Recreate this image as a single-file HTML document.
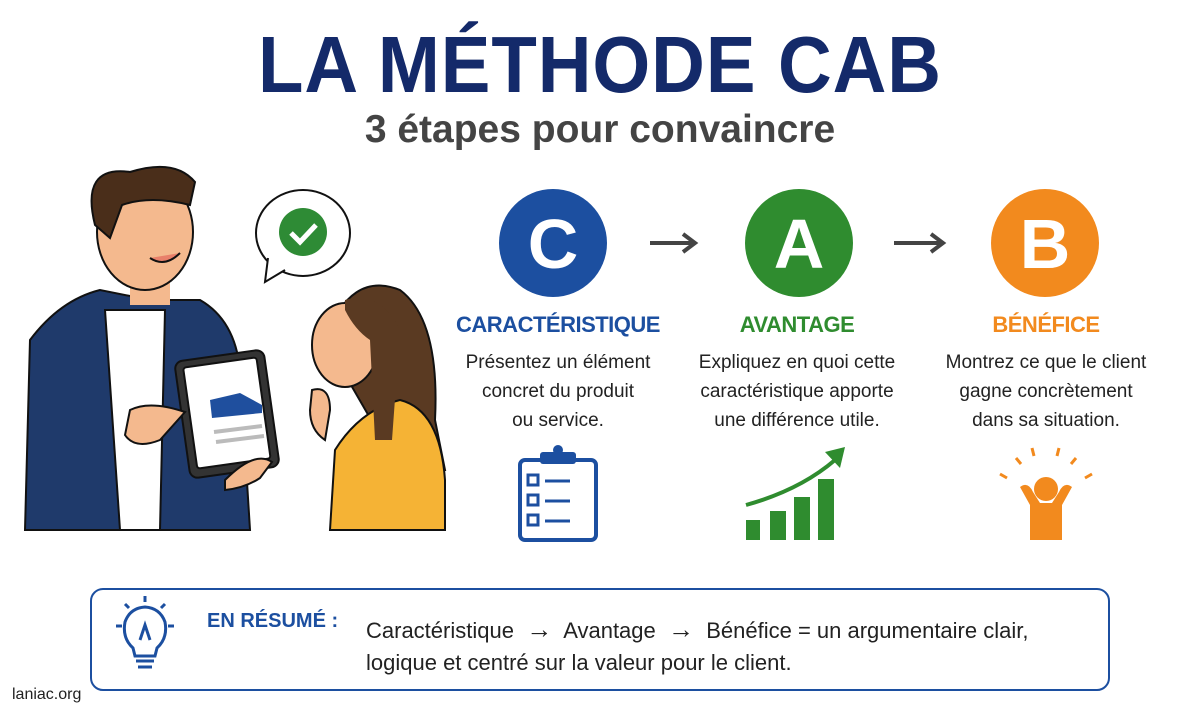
<!DOCTYPE html>
<html><head><meta charset="utf-8"><style>
body{margin:0;width:1200px;height:718px;background:#fff;position:relative;overflow:hidden;font-family:"Liberation Sans",sans-serif}
.a{position:absolute}
.t{left:0;width:1200px;text-align:center}
.lab{font-weight:bold;font-size:22px;text-align:center;width:260px;letter-spacing:-0.5px}
.desc{font-size:19px;line-height:29px;color:#222;text-align:center;width:260px}
</style></head><body>
<div class="a t" style="top:22px;font-size:80px;font-weight:900;color:#142a6a;letter-spacing:1px;line-height:86px;transform:scaleX(0.93)">LA MÉTHODE CAB</div>
<div class="a t" style="top:108px;font-size:39px;font-weight:bold;color:#444;line-height:44px">3 étapes pour convaincre</div>

<svg class="a" style="left:0;top:0" width="1200" height="718">
<g stroke="#111" stroke-width="2">
<ellipse cx="303" cy="233" rx="47" ry="43" fill="#fff"/>
<path d="M268 258 L265 282 L285 270" fill="#fff"/>
<circle cx="303" cy="232" r="24" fill="#2e8b35" stroke="none"/>
<path d="M291 233 L300 242 L316 225" fill="none" stroke="#fff" stroke-width="5"/>
<path d="M25 530 L30 340 Q60 300 100 290 L150 300 L200 300 Q235 320 240 370 L250 530 Z" fill="#1f3a6b"/>
<path d="M105 310 L120 530 L160 530 L165 310 Z" fill="#fff"/>
<rect x="130" y="195" width="40" height="110" fill="#f4b98e" stroke="none"/>
<ellipse cx="145" cy="232" rx="48" ry="58" fill="#f4b98e"/>
<path d="M95 225 Q80 165 130 172 Q175 158 195 182 L190 205 Q150 195 122 205 L110 238 Z" fill="#4a2e1a"/>
<path d="M150 258 Q165 268 180 253" fill="#e8806a"/>
<rect x="182" y="355" width="90" height="118" rx="8" fill="#333" transform="rotate(-8 227 414)"/>
<rect x="190" y="362" width="74" height="102" rx="3" fill="#fff" transform="rotate(-8 227 414)"/>
<path d="M210 400 L240 393 L262 405 L262 413 L212 418 Z" fill="#1f4f9e" stroke="none"/>
<path d="M214 432 L262 426 M216 442 L264 436" stroke="#bbb" stroke-width="4"/>
<path d="M130 410 Q150 400 185 412 L160 440 Q135 450 125 435 Z" fill="#f4b98e"/>
<path d="M225 480 Q255 450 272 462 L260 478 Q245 488 225 490 Z" fill="#f4b98e"/>
<path d="M325 340 Q350 270 400 290 Q440 320 435 420 L445 470 L400 470 Z" fill="#5a3a22"/>
<path d="M330 530 L335 450 Q360 410 400 400 Q440 410 445 480 L445 530 Z" fill="#f5b335"/>
<ellipse cx="345" cy="345" rx="33" ry="42" fill="#f4b98e"/>
<path d="M345 300 Q380 290 400 330 L392 440 L375 440 L370 340 Q355 330 345 310 Z" fill="#5a3a22" stroke="none"/>
<path d="M312 390 Q330 385 330 410 L325 440 Q310 430 310 410 Z" fill="#f4b98e"/>
</g>
<circle cx="553" cy="243" r="54" fill="#1c4fa0"/>
<circle cx="799" cy="243" r="54" fill="#2f8c2f"/>
<circle cx="1045" cy="243" r="54" fill="#f28a1e"/>
<text x="553" y="268" font-size="70" font-weight="bold" fill="#fff" text-anchor="middle" font-family="Liberation Sans">C</text>
<text x="799" y="268" font-size="70" font-weight="bold" fill="#fff" text-anchor="middle" font-family="Liberation Sans">A</text>
<text x="1045" y="268" font-size="70" font-weight="bold" fill="#fff" text-anchor="middle" font-family="Liberation Sans">B</text>
<g stroke="#444" stroke-width="4" fill="none"><path d="M650 243 L694 243 M683 234 L695 243 L683 252"/><path d="M894 243 L942 243 M931 234 L943 243 L931 252"/></g>
<rect x="520" y="460" width="76" height="80" rx="5" fill="#fff" stroke="#1c4fa0" stroke-width="4"/>
<rect x="540" y="452" width="36" height="12" rx="3" fill="#1c4fa0"/><circle cx="558" cy="450" r="5" fill="#1c4fa0"/>
<g stroke="#1c4fa0" stroke-width="3" fill="none"><rect x="528" y="475" width="10" height="10"/><rect x="528" y="495" width="10" height="10"/><rect x="528" y="515" width="10" height="10"/><path d="M545 481 L570 481 M545 501 L570 501 M545 521 L570 521"/></g>
<g fill="#2f8c2f"><rect x="746" y="520" width="14" height="20"/><rect x="770" y="511" width="16" height="29"/><rect x="794" y="497" width="16" height="43"/><rect x="818" y="479" width="16" height="61"/></g>
<path d="M746 505 Q800 490 835 460" stroke="#2f8c2f" stroke-width="4" fill="none"/><path d="M825 452 L845 447 L840 468 Z" fill="#2f8c2f"/>
<g fill="#f28a1e"><circle cx="1046" cy="489" r="12"/><path d="M1030 540 L1030 505 L1020 487 Q1028 481 1033 492 L1040 503 L1052 503 L1059 492 Q1064 481 1072 487 L1062 505 L1062 540 Z"/></g>
<g stroke="#f28a1e" stroke-width="3"><path d="M1032 448 L1034 456 M1059 448 L1057 456 M1016 458 L1021 464 M1076 458 L1071 464 M1000 474 L1007 478 M1092 474 L1085 478"/></g>
<rect x="91" y="589" width="1018" height="101" rx="12" fill="#fff" stroke="#1c4fa0" stroke-width="2"/>
<g stroke="#1c4fa0" stroke-width="3" fill="none"><path d="M133 648 Q122 638 125 622 Q130 608 145 607 Q160 608 165 622 Q168 638 157 648 L155 656 L135 656 Z"/><path d="M136 661 L154 661 M138 667 L152 667"/><path d="M145 596 L145 602 M125 604 L129 608 M165 604 L161 608 M116 626 L122 626 M168 626 L174 626"/><path d="M140 640 L145 625 L150 640"/></g>
</svg>

<div class="a lab" style="left:428px;top:312px;color:#1c4fa0">CARACTÉRISTIQUE</div>
<div class="a lab" style="left:667px;top:312px;color:#2f8c2f">AVANTAGE</div>
<div class="a lab" style="left:916px;top:312px;color:#f28a1e">BÉNÉFICE</div>
<div class="a desc" style="left:428px;top:348px">Présentez un élément<br>concret du produit<br>ou service.</div>
<div class="a desc" style="left:667px;top:348px">Expliquez en quoi cette<br>caractéristique apporte<br>une différence utile.</div>
<div class="a desc" style="left:916px;top:348px">Montrez ce que le client<br>gagne concrètement<br>dans sa situation.</div>
<div class="a" style="left:207px;top:610px;font-size:20px;font-weight:bold;color:#1c4fa0">EN RÉSUMÉ :</div>
<div class="a" style="left:366px;top:613px;font-size:22px;line-height:32px;color:#222">Caractéristique &nbsp;<span style="font-size:26px">→</span>&nbsp; Avantage &nbsp;<span style="font-size:26px">→</span>&nbsp; Bénéfice = un argumentaire clair,<br>logique et centré sur la valeur pour le client.</div>
<div class="a" style="left:12px;top:686px;font-size:16px;color:#222">laniac.org</div>
</body></html>
